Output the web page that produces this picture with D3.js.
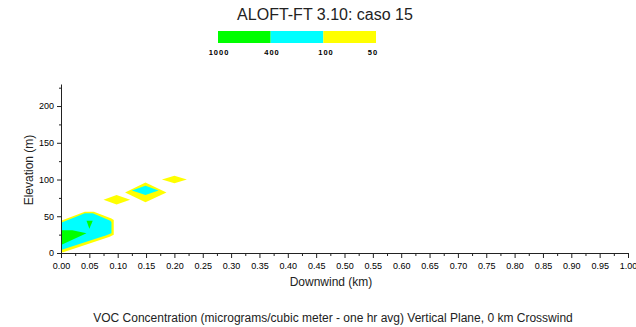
<!DOCTYPE html>
<html>
<head>
<meta charset="utf-8">
<script src="https://cdn.jsdelivr.net/npm/d3@7"></script>
<style>
  body { margin: 0; background: #fff; }
  svg { display: block; font-family: "Liberation Sans", Arial, sans-serif; }
</style>
</head>
<body>
<svg id="chart" width="636" height="327"></svg>
<script>
// Legend levels (micrograms/m3)
const legendLabels = ['1000', '400', '100', '50'];
const legendColors = ['#00ff00', '#00ffff', '#ffff00'];

// Axis ticks
const xTicks = d3.range(0, 1.0001, 0.05);
const xMinor = d3.range(0.025, 1, 0.05);
const yTicks = [0, 50, 100, 150, 200];
const yMinor = [25, 75, 125, 175, 225];

// Contour polygons: [km downwind, m elevation]
const yellowNear = [[0, 44], [0.042, 56], [0.058, 56], [0.089, 47], [0.093, 45], [0.093, 25], [0.086, 22], [0.004, 1], [0, 1]];
const cyanNear = [[0, 41], [0.042, 54], [0.056, 54], [0.087, 44], [0.089, 42], [0.089, 27], [0.08, 24], [0, 4]];
const greenNear = [[0, 31], [0.02, 31], [0.045, 27], [0, 11]];
const greenSmall = [[0.045, 44], [0.056, 44], [0.05, 33]];
const yellowBlobA = [[0.075, 72.5], [0.098, 79], [0.122, 72.5], [0.098, 66]];
const yellowBlobB = [[0.113, 82.5], [0.149, 96], [0.186, 82.5], [0.149, 69]];
const cyanBlobB = [[0.125, 85], [0.149, 91.5], [0.172, 85], [0.149, 79]];
const yellowBlobC = [[0.178, 100], [0.2, 105], [0.222, 100], [0.2, 95]];

const svg = d3.select('#chart');

// Scales
const x = d3.scaleLinear().domain([0, 1]).range([61, 628]);
const y = d3.scaleLinear().domain([0, 230]).range([253, 84]);

// Title
svg.append('text')
  .attr('x', 325).attr('y', 20)
  .attr('text-anchor', 'middle')
  .style('font-size', '16px')
  .attr('fill', '#222')
  .text('ALOFT-FT 3.10: caso 15');

// Legend bar
const legendX = d3.scaleLinear().domain([0, 3]).range([218, 376]);
svg.selectAll('.leg')
  .data(legendColors)
  .enter().append('rect')
  .attr('x', (d, i) => legendX(i))
  .attr('y', 31)
  .attr('width', (d, i) => legendX(i + 1) - legendX(i))
  .attr('height', 12)
  .attr('fill', (d) => d);

const legendLabelX = [219, 272, 326, 373];
svg.selectAll('.leglab')
  .data(legendLabels)
  .enter().append('text')
  .attr('x', (d, i) => legendLabelX[i])
  .attr('y', 55)
  .attr('text-anchor', 'middle')
  .style('font-size', '7.5px')
  .style('font-weight', 'bold')
  .style('letter-spacing', '1px')
  .attr('fill', '#000')
  .text((d) => d);

// Contours
const line = d3.line().x((d) => x(d[0])).y((d) => y(d[1]));
const shapes = [
  [yellowNear, legendColors[2]],
  [cyanNear, legendColors[1]],
  [greenNear, legendColors[0]],
  [greenSmall, legendColors[0]],
  [yellowBlobA, legendColors[2]],
  [yellowBlobB, legendColors[2]],
  [cyanBlobB, legendColors[1]],
  [yellowBlobC, legendColors[2]],
];
svg.append('g').selectAll('path')
  .data(shapes)
  .enter().append('path')
  .attr('d', (d) => line(d[0]) + 'Z')
  .attr('fill', (d) => d[1]);

// X axis
const xAxis = svg.append('g').attr('transform', 'translate(0,253)');
xAxis.call(d3.axisBottom(x).tickValues(xTicks).tickSize(5).tickSizeOuter(0).tickFormat(d3.format('.2f')));
xAxis.append('g').call(d3.axisBottom(x).tickValues(xMinor).tickSize(3).tickFormat(''))
  .select('.domain').remove();
xAxis.selectAll('text').style('font-size', '9px').attr('fill', '#000').attr('dy', '0.9em');
xAxis.selectAll('line, path').attr('stroke', '#222');

// Y axis
const yAxis = svg.append('g').attr('transform', 'translate(61,0)');
yAxis.call(d3.axisLeft(y).tickValues(yTicks).tickSize(4).tickSizeOuter(0));
yAxis.append('g').call(d3.axisLeft(y).tickValues(yMinor).tickSize(2).tickFormat(''))
  .select('.domain').remove();
yAxis.selectAll('text').style('font-size', '9px').attr('fill', '#000');
yAxis.selectAll('line, path').attr('stroke', '#222');

// Axis titles
svg.append('text')
  .attr('x', 331).attr('y', 286)
  .attr('text-anchor', 'middle')
  .style('font-size', '12px')
  .attr('fill', '#222')
  .text('Downwind (km)');

svg.append('text')
  .attr('transform', 'translate(33,170) rotate(-90)')
  .attr('text-anchor', 'middle')
  .style('font-size', '12px')
  .attr('fill', '#222')
  .text('Elevation (m)');

// Footer
svg.append('text')
  .attr('x', 333).attr('y', 322)
  .attr('text-anchor', 'middle')
  .style('font-size', '12px')
  .attr('fill', '#222')
  .text('VOC Concentration (micrograms/cubic meter - one hr avg) Vertical Plane, 0 km Crosswind');
</script>
</body>
</html>
